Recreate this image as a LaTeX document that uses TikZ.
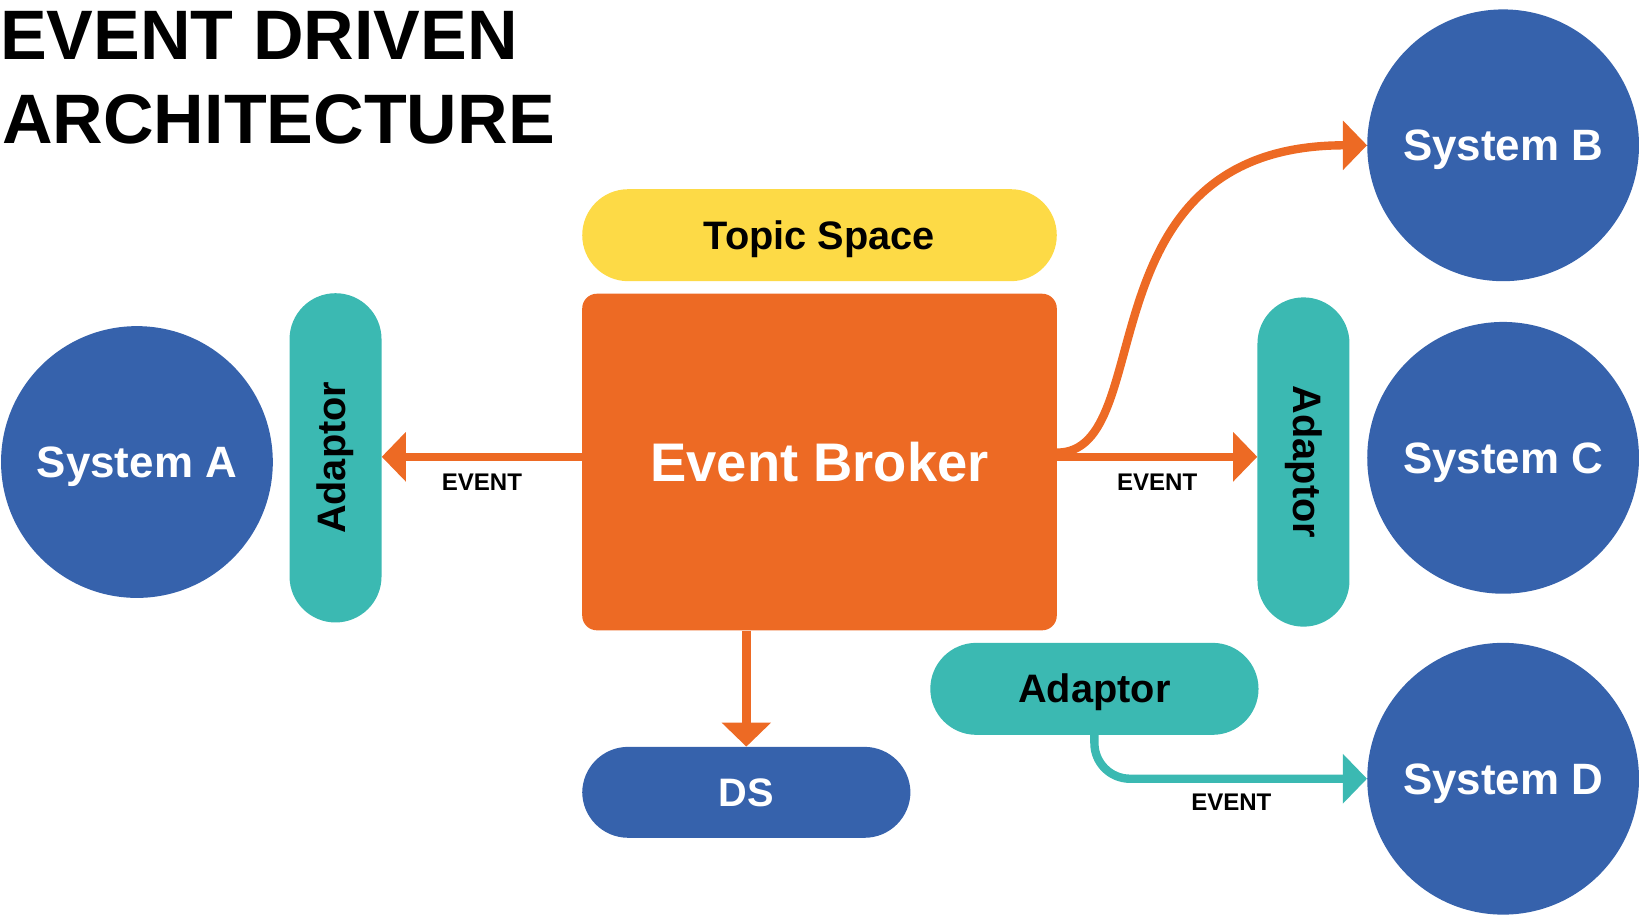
\documentclass[tikz,border=0pt]{standalone}
\usepackage{fontspec}
\usepackage{graphicx}
\setmainfont{Liberation Sans}
\usetikzlibrary{arrows.meta}

\definecolor{sysblue}{RGB}{54,98,172}
\definecolor{brokerorange}{RGB}{237,106,36}
\definecolor{adaptorteal}{RGB}{59,185,178}
\definecolor{topicyellow}{RGB}{253,218,70}

\tikzset{
  system/.style={circle, fill=sysblue, minimum size=260pt, inner sep=0pt,
    text=white, text height=30pt, text depth=0pt,
    font=\fontsize{42}{50}\selectfont\bfseries},
  pillbox/.style={rectangle, rounded corners=44pt, inner sep=0pt,
    font=\fontsize{38}{46}\selectfont\bfseries},
  pill/.style={pillbox, minimum height=88pt, text height=27pt, text depth=0pt},
  vpill/.style={pillbox, minimum width=88pt, minimum height=315pt},
  evarrow/.style={line width=8pt, brokerorange,
    -{Triangle[length=23pt,width=46pt]}},
  evlabel/.style={font=\fontsize{23}{27}\selectfont\bfseries, inner sep=0pt},
}

\begin{document}
\begin{tikzpicture}[x=1pt, y=-1pt]
    \useasboundingbox (0,0) rectangle (1568,875);
    % title
    \node [anchor=base west, inner sep=0pt, font=\fontsize{67}{80}\selectfont\bfseries] (title1) at (0,57) {EVENT DRIVEN};
    \node [anchor=base west, inner sep=0pt, font=\fontsize{67}{80}\selectfont\bfseries] (title2) at (2,137) {ARCHITECTURE};

    % systems
    \node [system] (sysA) at (131,442) {System A};
    \node [system] (sysB) at (1438,139) {System B};
    \node [system] (sysC) at (1438,438) {System C};
    \node [system] (sysD) at (1438,745) {System D};

    % broker and topic space
    \node [rectangle, rounded corners=14pt, fill=brokerorange, minimum width=454pt, minimum height=322pt,
        text=white, text height=37pt, text depth=0pt, font=\fontsize{52}{60}\selectfont\bfseries] (broker) at (784,442) {Event Broker};
    \node [pill, fill=topicyellow, minimum width=454pt] (topic) at (784,225) {Topic Space};
    \node [pill, fill=sysblue, text=white, minimum width=314pt, minimum height=87pt] (ds) at (714,758) {DS};

    % adaptors
    \node [vpill, fill=adaptorteal] (adA) at (321,438) {\rotatebox{90}{Adaptor}};
    \node [vpill, fill=adaptorteal] (adC) at (1247,442) {\rotatebox{-90}{Adaptor}};
    \node [pill, fill=adaptorteal, minimum width=314pt] (adD) at (1047,659) {Adaptor};

    % events
    \draw [evarrow] ([yshift=5pt]broker.west) -- ([yshift=5pt]broker.west -| adA.east);
    \draw [evarrow] ([yshift=5pt]broker.east) -- ([yshift=5pt]broker.east -| adC.west);
    \draw [evarrow] ([yshift=9pt]broker.east) .. controls +(99,0) and +(-276,0) .. (sysB.west);
    \draw [evarrow] (ds.north |- broker.south) -- (ds.north);
    \draw [evarrow, adaptorteal, rounded corners=34pt] (adD.south) |- (sysD.west);

    \node [evlabel] (evA) at (461,461) {EVENT};
    \node [evlabel] (evC) at (1107,461) {EVENT};
    \node [evlabel] (evD) at (1178,767) {EVENT};
\end{tikzpicture}
\end{document}
